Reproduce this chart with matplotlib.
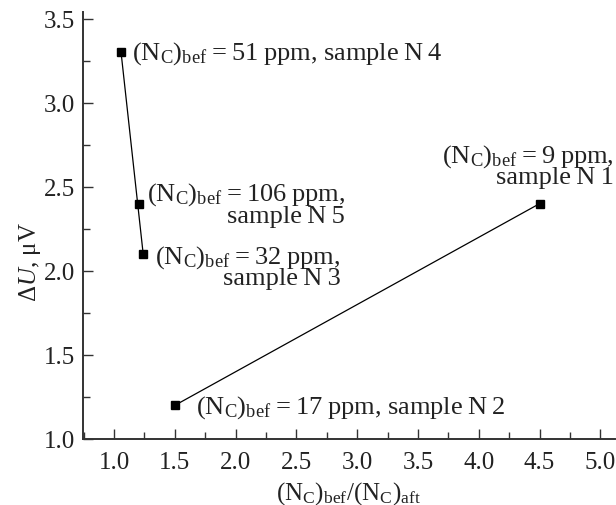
import numpy as np
import matplotlib.pyplot as plt
from matplotlib.ticker import MultipleLocator

plt.rcParams['font.family'] = ['Liberation Serif', 'DejaVu Serif']
plt.rcParams['mathtext.fontset'] = 'custom'
plt.rcParams['mathtext.rm'] = 'Liberation Serif'
plt.rcParams['mathtext.it'] = 'Liberation Serif:italic'

# ratio (N_C)bef/(N_C)aft and signal dU for each sample
samples = ['N 1', 'N 2', 'N 3', 'N 4', 'N 5']
nc_bef = [9, 17, 32, 51, 106]
ratio = [4.5, 1.5, 1.24, 1.058, 1.205]
du = [2.4, 1.2, 2.1, 3.3, 2.4]

# two trend lines: N4 -> N3 and N2 -> N1
line_a = ['N 4', 'N 3']
line_b = ['N 2', 'N 1']

fig = plt.figure(figsize=(6.16, 5.06), dpi=100)
ax = fig.add_axes([83/616, (506-440)/506, (615-83)/616, (440-13)/506])

col = '#333333'
tcol = '#222222'
for grp in (line_a, line_b):
    idx = [samples.index(s) for s in grp]
    ax.plot([ratio[i] for i in idx], [du[i] for i in idx], color='black', lw=0.9)
ax.plot(ratio, du, 's', color='black', ms=6, ls='none')

ax.set_xlim(0.745, 5.12)
ax.set_ylim(1.0, 3.54)
ax.xaxis.set_major_locator(MultipleLocator(0.5))
ax.xaxis.set_minor_locator(MultipleLocator(0.25))
ax.yaxis.set_major_locator(MultipleLocator(0.5))
ax.yaxis.set_minor_locator(MultipleLocator(0.25))
ax.xaxis.set_major_formatter(plt.FormatStrFormatter('%.1f'))
ax.yaxis.set_major_formatter(plt.FormatStrFormatter('%.1f'))
ax.tick_params(which='both', direction='in', colors=col, labelcolor=tcol,
               labelsize=18, width=1.0, pad=6)
ax.tick_params(axis='x', which='both', pad=9)
ax.tick_params(which='major', length=7)
ax.tick_params(which='minor', length=5)
for s in ['top', 'right']:
    ax.spines[s].set_visible(False)
for s in ['left', 'bottom']:
    ax.spines[s].set_linewidth(1.4)
    ax.spines[s].set_color(col)

ax.set_xlabel(r'$\mathrm{(N_C)_{bef}/(N_C)_{aft}}$', fontsize=18, color=tcol, va='center')
ax.xaxis.set_label_coords(0.5, (440-494)/427)
ax.set_ylabel(r'$\Delta U$, μV', fontsize=18, color=tcol, va='center')
ax.yaxis.set_label_coords((30-83)/532, (440-262)/427)

th = '\u2009'

def lab(n):
    return r'$\mathrm{(N_C)_{bef}}$' + th + '=' + th + '%d%sppm,' % (n, th)

fs = 19
kw = dict(fontsize=fs, va='center', color=tcol, linespacing=0.85)
ax.text(1.148, 3.30, lab(51) + ' sample' + th + 'N' + th + '4', ha='left', **kw)
ax.text(1.27, 2.40, lab(106) + '\nsample' + th + 'N' + th + '5', ha='left',
        multialignment='right', **kw)
ax.text(1.34, 2.03, lab(32) + '\nsample' + th + 'N' + th + '3', ha='left',
        multialignment='right', **kw)
ax.text(1.675, 1.19, lab(17) + ' sample' + th + 'N' + th + '2', ha='left', **kw)
ax.text(5.11, 2.63, lab(9) + '\nsample' + th + 'N' + th + '1', ha='right',
        multialignment='right', **kw)

fig.savefig('out.png', dpi=100)
